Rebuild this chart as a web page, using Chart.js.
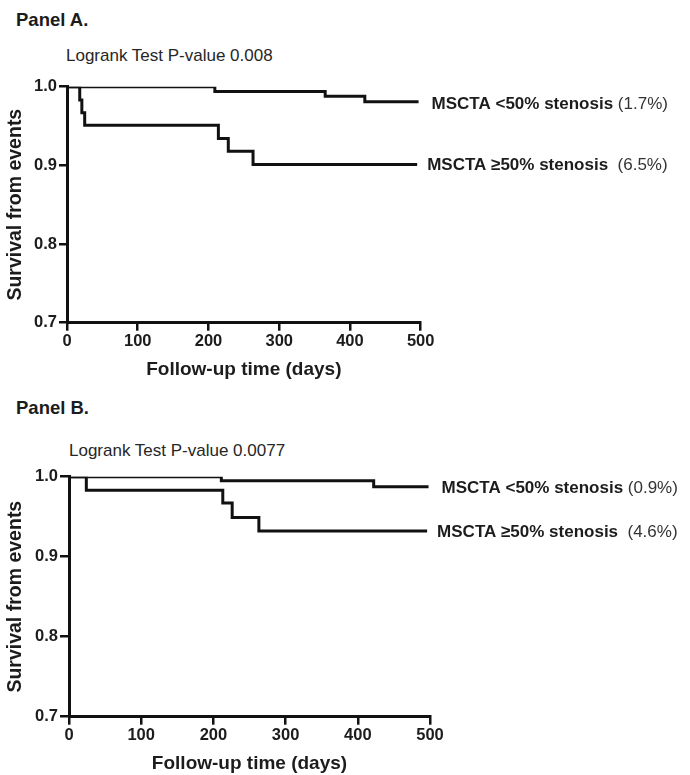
<!DOCTYPE html>
<html>
<head>
<meta charset="utf-8">
<script src="https://cdn.jsdelivr.net/npm/chart.js@4/dist/chart.umd.min.js"></script>
<style>
  html, body { margin: 0; padding: 0; background: #fff; }
  body { width: 690px; height: 775px; position: relative; overflow: hidden; font-family: "Liberation Sans", Arial, sans-serif; color: #1c1c1c; }
  .txt { position: absolute; line-height: 1; white-space: pre; }
  .panel { font-weight: bold; font-size: 18.5px; }
  .pval { font-size: 17px; color: #262626; }
  canvas { position: absolute; left: 0; }
</style>
</head>
<body>
<div class="txt panel" style="left:16px; top:11px;">Panel A.</div>
<div class="txt pval" style="left:66px; top:47px;">Logrank Test P-value 0.008</div>
<div class="txt panel" style="left:16px; top:399px;">Panel B.</div>
<div class="txt pval" style="left:69px; top:442px;">Logrank Test P-value 0.0077</div>
<canvas id="cA" width="690" height="390" style="top:0px;"></canvas>
<canvas id="cB" width="690" height="385" style="top:390px;"></canvas>
<script>
// ---- data ----
const xTicks = [0, 100, 200, 300, 400, 500];
const yTicks = [0.7, 0.8, 0.9, 1.0];

// Panel A
const timesA_lt50 = [0, 209, 365, 421, 497];
const survA_lt50  = [1.0, 0.994, 0.988, 0.981, 0.981];
const timesA_ge50 = [0, 18, 21, 25, 214, 228, 263, 495];
const survA_ge50  = [1.0, 0.983, 0.967, 0.951, 0.934, 0.918, 0.901, 0.901];
const labelsA = ['MSCTA <50% stenosis', 'MSCTA \u226550% stenosis'];
const pctA    = [' (1.7%)', '  (6.5%)'];

// Panel B
const timesB_lt50 = [0, 211, 422, 498];
const survB_lt50  = [1.0, 0.995, 0.9875, 0.9875];
const timesB_ge50 = [0, 24, 213, 226, 263, 496];
const survB_ge50  = [1.0, 0.983, 0.967, 0.949, 0.932, 0.932];
const labelsB = ['MSCTA <50% stenosis', 'MSCTA \u226550% stenosis'];
const pctB    = [' (0.9%)', '  (4.6%)'];

const yTitle = 'Survival from events';
const xTitle = 'Follow-up time (days)';

// ---- helpers ----
const FAM = '"Liberation Sans", Arial, sans-serif';
const pts = (t, s) => t.map((v, i) => ({ x: v, y: s[i] }));

const endLabels = {
  id: 'endLabels',
  afterDatasetsDraw(chart) {
    const ctx = chart.ctx;
    chart.data.datasets.forEach((ds, i) => {
      const meta = chart.getDatasetMeta(i);
      const p = meta.data[meta.data.length - 1];
      const x = p.x + ds.labelDx, y = p.y + ds.labelDy;
      ctx.save();
      ctx.textBaseline = 'middle';
      ctx.textAlign = 'left';
      ctx.font = 'bold 17px ' + FAM;
      ctx.fillStyle = '#1c1c1c';
      ctx.fillText(ds.label, x, y);
      const w = ctx.measureText(ds.label).width;
      ctx.font = '17px ' + FAM;
      ctx.fillStyle = '#333';
      ctx.fillText(ds.pct, x + w, y);
      ctx.restore();
    });
  }
};

function makeChart(id, sets, labels, pcts, cfg) {
  const datasets = sets.map((s, i) => ({
    label: labels[i],
    pct: pcts[i],
    labelDx: cfg.dx[i],
    labelDy: cfg.dy[i],
    data: pts(s[0], s[1]),
    borderColor: '#111',
    borderWidth: 3,
    pointRadius: 0,
    stepped: 'before',
    fill: false,
    clip: 0
  }));
  return new Chart(document.getElementById(id), {
    type: 'line',
    data: { datasets },
    plugins: [endLabels],
    options: {
      responsive: false,
      animation: false,
      layout: { padding: { top: cfg.top, left: 0, right: cfg.right, bottom: 0 } },
      plugins: { legend: { display: false }, tooltip: { enabled: false } },
      scales: {
        x: {
          type: 'linear', min: 0, max: 500,
          afterFit: s => { s.height = cfg.xh; },
          afterBuildTicks: s => { s.ticks = xTicks.map(v => ({ value: v })); },
          ticks: { color: '#1c1c1c', font: { family: FAM, weight: 'bold', size: 16.5 }, padding: 1, maxRotation: 0, autoSkip: false },
          grid: { drawOnChartArea: false, drawTicks: true, tickLength: 8, tickWidth: 2.5, tickColor: '#111', lineWidth: 2.5, color: '#111' },
          border: { display: true, color: '#111', width: 3 },
          title: { display: true, text: xTitle, color: '#1c1c1c', font: { family: FAM, weight: 'bold', size: 19 }, padding: { top: 0, bottom: cfg.xtp } }
        },
        y: {
          type: 'linear', min: 0.7, max: 1.0,
          afterFit: s => { s.width = cfg.yw; },
          afterBuildTicks: s => { s.ticks = yTicks.map(v => ({ value: v })); },
          ticks: { color: '#1c1c1c', font: { family: FAM, weight: 'bold', size: 16.5 }, padding: 2, callback: v => Number(v).toFixed(1) },
          grid: { drawOnChartArea: false, drawTicks: true, tickLength: cfg.ytl, tickWidth: 2.5, tickColor: '#111', lineWidth: 2.5, color: '#111' },
          border: { display: true, color: '#111', width: 3 },
          title: { display: true, text: yTitle, color: '#1c1c1c', font: { family: FAM, weight: 'bold', size: 19.5 }, padding: { top: 4, bottom: 0 } }
        }
      }
    }
  });
}

makeChart('cA',
  [[timesA_lt50, survA_lt50], [timesA_ge50, survA_ge50]],
  labelsA, pctA,
  { top: 86.7, right: 269.3, xh: 67.3, yw: 67, xtp: 8.5, ytl: 8, dx: [13, 10], dy: [3, 1] });

makeChart('cB',
  [[timesB_lt50, survB_lt50], [timesB_ge50, survB_ge50]],
  labelsB, pctB,
  { top: 86.7, right: 260, xh: 58.3, yw: 69, xtp: 0.3, ytl: 9, dx: [13, 10], dy: [2, 1] });
</script>
</body>
</html>
